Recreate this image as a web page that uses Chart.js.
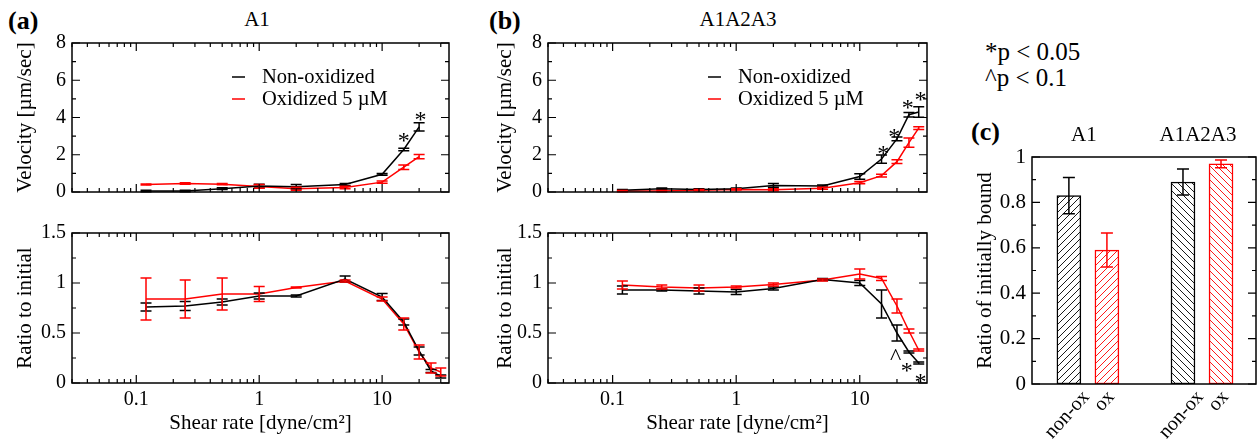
<!DOCTYPE html>
<html>
<head>
<meta charset="utf-8">
<script src="https://cdn.jsdelivr.net/npm/chart.js@4.4.1/dist/chart.umd.min.js"></script>
<style>
  body { margin: 0; background: #fff; width: 1258px; height: 443px; position: relative; overflow: hidden; font-family: "Liberation Serif", "DejaVu Serif", serif; }
  canvas { position: absolute; }
  .lbl { position: absolute; white-space: nowrap; line-height: 1; color: #000; }
</style>
</head>
<body>
<div class="lbl" style="left:8px; top:8px; font-size:26px; font-weight:bold;">(a)</div>
<div class="lbl" style="left:207px; top:9px; width:100px; text-align:center; font-size:21px;">A1</div>
<div class="lbl" style="left:489px; top:8px; font-size:26px; font-weight:bold;">(b)</div>
<div class="lbl" style="left:638px; top:9px; width:200px; text-align:center; font-size:21px;">A1A2A3</div>
<div class="lbl" style="left:985px; top:39px; font-size:25px;">*p &lt; 0.05</div>
<div class="lbl" style="left:985px; top:65px; font-size:25px;">^p &lt; 0.1</div>
<div class="lbl" style="left:971px; top:119px; font-size:26px; font-weight:bold;">(c)</div>

<canvas id="aTop" width="460" height="190" style="left:0; top:20px;"></canvas>
<canvas id="aBot" width="460" height="228" style="left:0; top:215px;"></canvas>
<canvas id="bTop" width="460" height="190" style="left:480px; top:20px;"></canvas>
<canvas id="bBot" width="460" height="228" style="left:480px; top:215px;"></canvas>
<canvas id="cBar" width="318" height="323" style="left:940px; top:120px;"></canvas>

<script>
// shear rates [dyne/cm2]
const shearShort = [0.12, 0.25, 0.5, 1, 2, 5, 10, 15, 20];
const shear = [0.12, 0.25, 0.5, 1, 2, 5, 10, 15, 20, 25, 30];
const logTickLabels = [0.1, 1, 10];

// (a) A1 velocity
const velA_non = [0.05, 0.05, 0.18, 0.32, 0.28, 0.4, 0.95, 2.28, 3.5];
const velA_nonErr = [0.04, 0.04, 0.05, 0.1, 0.12, 0.06, 0.05, 0.07, 0.22];
const velA_ox = [0.4, 0.45, 0.42, 0.3, 0.18, 0.24, 0.53, 1.33, 1.9];
const velA_oxErr = [0.03, 0.04, 0.03, 0.1, 0.08, 0.07, 0.06, 0.12, 0.12];
// (a) A1 ratio to initial
const ratA_non = [0.76, 0.77, 0.81, 0.87, 0.87, 1.04, 0.86, 0.61, 0.32, 0.12, 0.065];
const ratA_nonErr = [0.04, 0.045, 0.03, 0.03, 0.01, 0.03, 0.035, 0.03, 0.04, 0.015, 0.015];
const ratA_ox = [0.84, 0.84, 0.89, 0.89, 0.955, 1.02, 0.84, 0.59, 0.31, 0.15, 0.11];
const ratA_oxErr = [0.21, 0.19, 0.16, 0.075, 0.005, 0.01, 0.02, 0.06, 0.07, 0.05, 0.04];

// (b) A1A2A3 velocity
const velB_non = [0.1, 0.18, 0.14, 0.18, 0.35, 0.32, 0.83, 1.77, 2.85, 4.15, 4.3];
const velB_nonErr = [0.03, 0.03, 0.03, 0.03, 0.1, 0.05, 0.15, 0.22, 0.1, 0.12, 0.28];
const velB_ox = [0.05, 0.05, 0.1, 0.14, 0.12, 0.2, 0.5, 0.88, 1.63, 2.65, 3.43];
const velB_oxErr = [0.03, 0.03, 0.03, 0.03, 0.05, 0.05, 0.06, 0.07, 0.1, 0.25, 0.08];
// (b) A1A2A3 ratio to initial
const ratB_non = [0.93, 0.93, 0.92, 0.91, 0.945, 1.035, 1.0, 0.79, 0.5, 0.31, 0.2];
const ratB_nonErr = [0.04, 0.01, 0.03, 0.025, 0.015, 0.01, 0.025, 0.14, 0.08, 0.01, 0.01];
const ratB_ox = [0.98, 0.96, 0.95, 0.96, 0.985, 1.03, 1.09, 1.045, 0.77, 0.52, 0.33];
const ratB_oxErr = [0.04, 0.02, 0.03, 0.01, 0.015, 0.01, 0.05, 0.02, 0.07, 0.02, 0.01];

// significance marks
const sigA_vel = [{x: 15, y: 3.0, t: '*'}, {x: 20.5, y: 4.15, t: '*'}];
const sigB_vel = [{x: 15.5, y: 2.3, t: '*'}, {x: 19, y: 3.25, t: '*'}, {x: 24.5, y: 4.8, t: '*'}, {x: 31, y: 5.2, t: '*'}];
const sigB_rat = [{x: 19.5, y: 0.31, t: '^'}, {x: 24, y: 0.17, t: '*'}, {x: 31, y: 0.06, t: '*'}];

// (c) ratio of initially bound
const groups = ['A1', 'A1A2A3'];
const barCats = ['non-ox', 'ox', 'non-ox', 'ox'];
const barSlot = [1, 2, 4, 5];
const boundNon = [0.83, 0.89];
const boundNonErr = [0.08, 0.057];
const boundOx = [0.59, 0.97];
const boundOxErr = [0.075, 0.017];

const serif = '"Liberation Serif", "DejaVu Serif", serif';
Chart.defaults.font.family = serif;
Chart.defaults.color = '#000';

const tickText = v => String(Math.round(v * 100) / 100);

// frame with inward ticks on all sides, like the original plot
const frameTicks = {
  id: 'frameTicks',
  afterDatasetsDraw(chart, args, opts) {
    const {ctx, chartArea: a} = chart;
    const x = chart.scales.x, y = chart.scales.y;
    ctx.save();
    ctx.strokeStyle = '#000';
    ctx.lineWidth = 1.5;
    ctx.strokeRect(a.left, a.top, a.right - a.left, a.bottom - a.top);
    ctx.lineWidth = 1.2;
    ctx.beginPath();
    if (opts.logX) {
      for (let e = -2; e <= 1; e++) {
        for (let m = 1; m <= 9; m++) {
          const v = m * Math.pow(10, e);
          if (v < x.min || v > x.max) continue;
          const px = x.getPixelForValue(v);
          const len = m === 1 ? 8 : 4;
          ctx.moveTo(px, a.bottom); ctx.lineTo(px, a.bottom - len);
          ctx.moveTo(px, a.top); ctx.lineTo(px, a.top + len);
        }
      }
    }
    if (opts.yMinor) {
      const n = Math.round((y.max - y.min) / opts.yMinor);
      for (let i = 0; i <= n; i++) {
        const py = y.getPixelForValue(y.min + i * opts.yMinor);
        const len = i % 2 === 0 ? 8 : 4;
        ctx.moveTo(a.left, py); ctx.lineTo(a.left + len, py);
        ctx.moveTo(a.right, py); ctx.lineTo(a.right - len, py);
      }
    }
    ctx.stroke();
    ctx.restore();
  }
};

const errorBars = {
  id: 'errorBars',
  afterDatasetsDraw(chart) {
    const {ctx} = chart;
    const ys = chart.scales.y;
    chart.data.datasets.forEach((ds, i) => {
      if (!ds.err) return;
      const meta = chart.getDatasetMeta(i);
      ctx.save();
      ctx.strokeStyle = ds.borderColor;
      ctx.lineWidth = 1.5;
      meta.data.forEach((el, j) => {
        const v = ds.data[j].y;
        const y1 = ys.getPixelForValue(v - ds.err[j]);
        const y2 = ys.getPixelForValue(v + ds.err[j]);
        const cap = ds.cap || 5.5;
        ctx.beginPath();
        ctx.moveTo(el.x, y1); ctx.lineTo(el.x, y2);
        ctx.moveTo(el.x - cap, y1); ctx.lineTo(el.x + cap, y1);
        ctx.moveTo(el.x - cap, y2); ctx.lineTo(el.x + cap, y2);
        ctx.stroke();
      });
      ctx.restore();
    });
  }
};

const marks = {
  id: 'marks',
  afterDatasetsDraw(chart, args, opts) {
    if (!opts.items) return;
    const {ctx} = chart;
    ctx.save();
    ctx.fillStyle = '#000';
    ctx.font = '24px ' + serif;
    ctx.textAlign = 'center';
    ctx.textBaseline = 'middle';
    opts.items.forEach(m => {
      ctx.fillText(m.t, chart.scales.x.getPixelForValue(m.x), chart.scales.y.getPixelForValue(m.y) + 6);
    });
    ctx.restore();
  }
};

const inLegend = {
  id: 'inLegend',
  afterDatasetsDraw(chart, args, opts) {
    if (!opts.show) return;
    const {ctx, chartArea: a} = chart;
    ctx.save();
    ctx.font = '20.5px ' + serif;
    ctx.textBaseline = 'middle';
    chart.data.datasets.forEach((ds, i) => {
      const x0 = a.left + opts.dx, y0 = a.top + opts.dy + i * 22;
      ctx.strokeStyle = ds.borderColor;
      ctx.lineWidth = 1.5;
      ctx.beginPath(); ctx.moveTo(x0, y0); ctx.lineTo(x0 + 13, y0); ctx.stroke();
      ctx.fillStyle = '#000';
      ctx.fillText(ds.label, x0 + 30, y0 + 1);
    });
    ctx.restore();
  }
};

function series(label, color, xs, ys, err) {
  return {
    label: label,
    data: xs.map((s, i) => ({x: s, y: ys[i]})),
    err: err,
    borderColor: color,
    backgroundColor: color,
    borderWidth: 1.5,
    pointRadius: 0,
    tension: 0
  };
}

function shearChart(id, o) {
  const xScale = {
    type: 'logarithmic', min: 0.03, max: 35,
    display: o.bottom,
    grid: {display: false, drawTicks: false},
    border: {display: false},
    afterBuildTicks: s => { s.ticks = logTickLabels.map(v => ({value: v})); },
    ticks: {
      autoSkip: false, maxRotation: 0, padding: 5, color: '#000',
      font: {family: serif, size: 20},
      callback: v => String(v)
    },
    title: {display: true, text: 'Shear rate [dyne/cm²]', color: '#000', font: {family: serif, size: 21}, padding: {top: 0, bottom: 7}}
  };
  if (o.bottom) xScale.afterFit = s => { s.height = 60; };
  new Chart(document.getElementById(id), {
    type: 'line',
    data: {
      datasets: [
        series('Non-oxidized', '#000000', o.xs, o.non, o.nonErr),
        series('Oxidized 5 µM', '#ff0000', o.xs, o.ox, o.oxErr)
      ]
    },
    options: {
      responsive: false,
      animation: false,
      events: [],
      layout: {padding: o.pad},
      scales: {
        x: xScale,
        y: {
          min: 0, max: o.ymax,
          grid: {display: false, drawTicks: false},
          border: {display: false},
          ticks: {stepSize: o.ystep, padding: 6, color: '#000', font: {family: serif, size: 20}, callback: tickText},
          title: {display: true, text: o.ytitle, color: '#000', font: {family: serif, size: 21}, padding: {top: 4, bottom: 0}},
          afterFit: s => { s.width = o.yw; }
        }
      },
      plugins: {
        legend: {display: false},
        tooltip: {enabled: false},
        frameTicks: {logX: true, yMinor: o.ystep / 2},
        marks: {items: o.marks},
        inLegend: {show: o.legend, dx: 160, dy: 34}
      }
    },
    plugins: [errorBars, frameTicks, marks, inLegend]
  });
}

shearChart('aTop', {xs: shearShort, non: velA_non, nonErr: velA_nonErr, ox: velA_ox, oxErr: velA_oxErr,
  ymax: 8, ystep: 2, ytitle: 'Velocity [µm/sec]', bottom: false, legend: true, marks: sigA_vel,
  pad: {left: 9, top: 23, right: 11, bottom: 17}, yw: 63});
shearChart('aBot', {xs: shear, non: ratA_non, nonErr: ratA_nonErr, ox: ratA_ox, oxErr: ratA_oxErr,
  ymax: 1.5, ystep: 0.5, ytitle: 'Ratio to initial', bottom: true, legend: false, marks: null,
  pad: {left: 9, top: 18, right: 11, bottom: 0}, yw: 63});
shearChart('bTop', {xs: shear, non: velB_non, nonErr: velB_nonErr, ox: velB_ox, oxErr: velB_oxErr,
  ymax: 8, ystep: 2, ytitle: 'Velocity [µm/sec]', bottom: false, legend: true, marks: sigB_vel,
  pad: {left: 9, top: 23, right: 13, bottom: 17}, yw: 59});
shearChart('bBot', {xs: shear, non: ratB_non, nonErr: ratB_nonErr, ox: ratB_ox, oxErr: ratB_oxErr,
  ymax: 1.5, ystep: 0.5, ytitle: 'Ratio to initial', bottom: true, legend: false, marks: sigB_rat,
  pad: {left: 9, top: 18, right: 13, bottom: 0}, yw: 59});

// hatched fills for panel (c)
function hatch(color, rising) {
  const c = document.createElement('canvas');
  c.width = c.height = 7;
  const g = c.getContext('2d');
  g.fillStyle = '#fff';
  g.fillRect(0, 0, 7, 7);
  g.strokeStyle = color;
  g.lineWidth = 0.9;
  g.beginPath();
  if (rising) {
    g.moveTo(0, 7); g.lineTo(7, 0);
    g.moveTo(-1, 1); g.lineTo(1, -1);
    g.moveTo(6, 8); g.lineTo(8, 6);
  } else {
    g.moveTo(0, 0); g.lineTo(7, 7);
    g.moveTo(6, -1); g.lineTo(8, 1);
    g.moveTo(-1, 6); g.lineTo(1, 8);
  }
  g.stroke();
  return g.createPattern(c, 'repeat');
}

// group names above the frame, rotated bar names under it
const barText = {
  id: 'barText',
  afterDraw(chart, args, opts) {
    const {ctx, chartArea: a} = chart;
    const x = chart.scales.x;
    ctx.save();
    ctx.fillStyle = '#000';
    ctx.font = '21px ' + serif;
    ctx.textAlign = 'center';
    ctx.textBaseline = 'middle';
    groups.forEach((g, i) => {
      const mid = (barSlot[2 * i] + barSlot[2 * i + 1]) / 2;
      ctx.fillText(g, x.getPixelForValue(mid) - 4, a.top - 22);
    });
    ctx.font = '20px ' + serif;
    ctx.textAlign = 'right';
    ctx.textBaseline = 'top';
    barSlot.forEach((s, i) => {
      ctx.save();
      ctx.translate(x.getPixelForValue(s) + opts.nudge[barCats[i]], a.bottom + 3);
      ctx.rotate(-48 * Math.PI / 180);
      ctx.fillText(barCats[i], 0, 0);
      ctx.restore();
    });
    ctx.restore();
  }
};

new Chart(document.getElementById('cBar'), {
  type: 'bar',
  data: {
    datasets: [
      {
        label: 'non-ox',
        data: boundNon.map((v, i) => ({x: barSlot[2 * i], y: v})),
        err: boundNonErr, cap: 6,
        backgroundColor: [hatch('#000', true), hatch('#000', false)],
        borderColor: '#000000', borderWidth: 1.5, borderSkipped: false,
        barThickness: 24, grouped: false
      },
      {
        label: 'ox',
        data: boundOx.map((v, i) => ({x: barSlot[2 * i + 1], y: v})),
        err: boundOxErr, cap: 6,
        backgroundColor: [hatch('#ff0000', true), hatch('#ff0000', false)],
        borderColor: '#ff0000', borderWidth: 1.5, borderSkipped: false,
        barThickness: 24, grouped: false
      }
    ]
  },
  options: {
    responsive: false,
    animation: false,
    events: [],
    layout: {padding: {left: 29, top: 37, right: 2, bottom: 0}},
    scales: {
      x: {
        type: 'linear', min: 0.03, max: 5.92, offset: false,
        grid: {display: false, drawTicks: false},
        border: {display: false},
        ticks: {display: false},
        afterFit: s => { s.height = 59; }
      },
      y: {
        min: 0, max: 1,
        grid: {display: false, drawTicks: false},
        border: {display: false},
        ticks: {stepSize: 0.2, padding: 6, color: '#000', font: {family: serif, size: 21}, callback: tickText},
        title: {display: true, text: 'Ratio of initially bound', color: '#000', font: {family: serif, size: 21}, padding: {top: 4, bottom: 0}},
        afterFit: s => { s.width = 63; }
      }
    },
    plugins: {
      legend: {display: false},
      tooltip: {enabled: false},
      frameTicks: {logX: false, yMinor: 0.1},
      barText: {nudge: {'non-ox': 10, 'ox': -3}}
    }
  },
  plugins: [errorBars, frameTicks, barText]
});
</script>
</body>
</html>
